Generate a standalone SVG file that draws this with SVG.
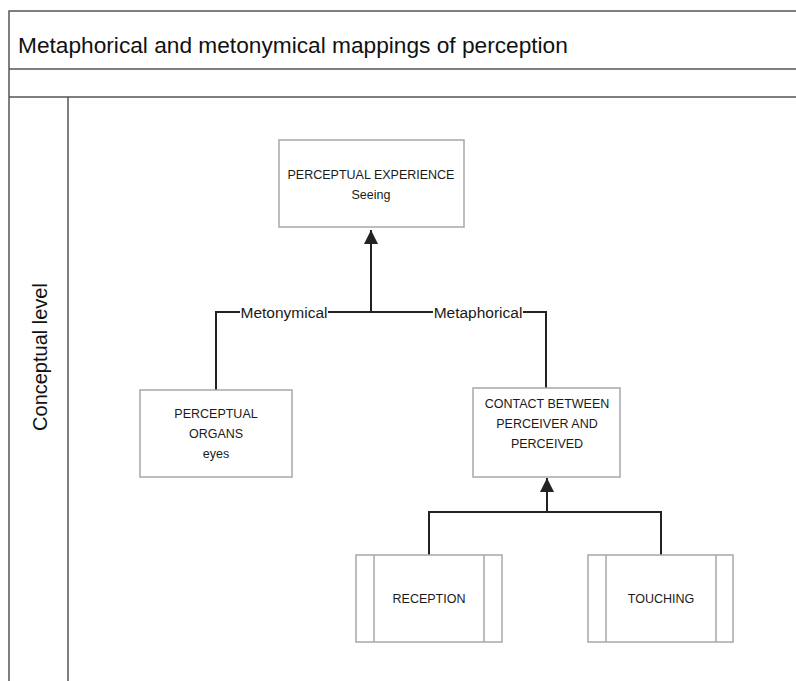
<svg xmlns="http://www.w3.org/2000/svg" width="796" height="681" viewBox="0 0 796 681">
<defs>
<style>
.frame{fill:none;stroke:#555;stroke-width:1.5}
.box{fill:#fff;stroke:#a8a8a8;stroke-width:1.5}
.conn{fill:none;stroke:#222;stroke-width:2}
.t{font-family:"Liberation Sans",Arial,sans-serif;font-size:12.5px;fill:#1a1a1a;text-anchor:middle}
.lbl{font-family:"Liberation Sans",Arial,sans-serif;font-size:15.5px;fill:#1a1a1a;text-anchor:middle}
.big{font-family:"Liberation Sans",Arial,sans-serif;font-size:22.7px;fill:#111}
.side{font-family:"Liberation Sans",Arial,sans-serif;font-size:20px;fill:#111;text-anchor:middle}
</style>
<marker id="arrB" viewBox="0 0 14 14" refX="14" refY="7" markerWidth="14" markerHeight="14" markerUnits="userSpaceOnUse" orient="auto">
<path d="M0,0 L14,7 L0,14 z" fill="#222"/>
</marker>
</defs>
<rect width="796" height="681" fill="#fff"/>
<g id="frame">
<path class="frame" d="M796,11 H9 V681 M9,69 H796 M9,97 H796 M68,97 V681"/>
<text class="big" x="18" y="53">Metaphorical and metonymical mappings of perception</text>
<text class="side" transform="translate(47,357) rotate(-90)">Conceptual level</text>
</g>
<g id="connectors">
<path class="conn" d="M216,390 V312 H546 V388"/>
<path class="conn" d="M371,312 V230" marker-end="url(#arrB)"/>
<path class="conn" d="M429,555 V512 H661 V555"/>
<path class="conn" d="M547,512 V478" marker-end="url(#arrB)"/>
<rect x="240" y="302" width="88" height="20" fill="#fff"/>
<text class="lbl" x="284" y="318">Metonymical</text>
<rect x="433" y="302" width="90" height="20" fill="#fff"/>
<text class="lbl" x="478" y="318">Metaphorical</text>
</g>
<g id="experience">
<rect class="box" x="279" y="140" width="185" height="87"/>
<text class="t" x="371" y="179">PERCEPTUAL EXPERIENCE</text>
<text class="t" x="371" y="199">Seeing</text>
</g>
<g id="organs">
<rect class="box" x="140" y="390" width="152" height="87"/>
<text class="t" x="216" y="418">PERCEPTUAL</text>
<text class="t" x="216" y="438">ORGANS</text>
<text class="t" x="216" y="458">eyes</text>
</g>
<g id="contact">
<rect class="box" x="473" y="388" width="147" height="89"/>
<text class="t" x="547" y="408">CONTACT BETWEEN</text>
<text class="t" x="547" y="428">PERCEIVER AND</text>
<text class="t" x="547" y="448">PERCEIVED</text>
</g>
<g id="reception">
<rect class="box" x="356" y="555" width="146" height="87"/>
<path class="box" d="M374,555 V642 M484,555 V642"/>
<text class="t" x="429" y="603">RECEPTION</text>
</g>
<g id="touching">
<rect class="box" x="588" y="555" width="145" height="87"/>
<path class="box" d="M606,555 V642 M716,555 V642"/>
<text class="t" x="661" y="603">TOUCHING</text>
</g>
</svg>
